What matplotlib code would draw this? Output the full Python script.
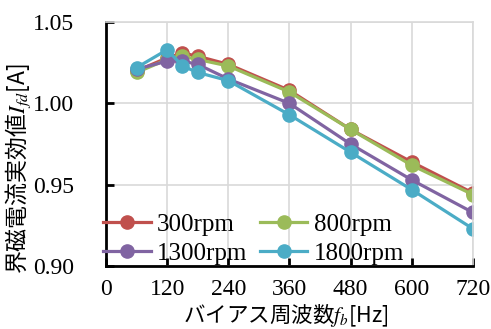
import numpy as np
import matplotlib.pyplot as plt

plt.rcParams['font.family'] = ['Liberation Serif', 'Noto Sans CJK JP']
plt.rcParams['mathtext.fontset'] = 'stix'

freq = [60, 120, 150, 180, 240, 360, 480, 600, 720]
rpm300 = [1.020, 1.028, 1.031, 1.029, 1.024, 1.008, 0.984, 0.964, 0.945]
rpm800 = [1.019, 1.027, 1.029, 1.027, 1.023, 1.007, 0.984, 0.962, 0.944]
rpm1300 = [1.021, 1.026, 1.026, 1.024, 1.015, 1.000, 0.975, 0.953, 0.933]
rpm1800 = [1.022, 1.033, 1.023, 1.019, 1.014, 0.993, 0.970, 0.947, 0.923]

labels = ['300rpm', '800rpm', '1300rpm', '1800rpm']
colors = ['#C0504D', '#9BBB59', '#8064A2', '#4BACC6']

fig = plt.figure(figsize=(4.91, 3.29), dpi=100)
ax = fig.add_axes([0.216, 0.191, 0.747, 0.742])

lines = []
for y, lab, c in zip([rpm300, rpm800, rpm1300, rpm1800], labels, colors):
    l, = ax.plot(freq, y, '-o', color=c, lw=2.3, ms=9.5, label=lab)
    lines.append(l)

ax.set_xlim(0, 720)
ax.set_ylim(0.90, 1.05)
ax.set_xticks(np.arange(0, 721, 120))
ax.set_yticks([0.90, 0.95, 1.00, 1.05])
ax.set_yticklabels(['0.90', '0.95', '1.00', '1.05'])
ax.grid(color='#D9D9D9', lw=1.2)
ax.set_axisbelow(True)
for s in ['top', 'right']:
    ax.spines[s].set_color('#D9D9D9')
    ax.spines[s].set_linewidth(1.2)
for s in ['left', 'bottom']:
    ax.spines[s].set_linewidth(2)
ax.tick_params(direction='in', length=6, width=2, labelsize=17)
ax.tick_params(axis='y', pad=23)
ax.tick_params(axis='x', pad=9)

ax.set_xlabel('バイアス周波数$f_b$[Hz]', fontsize=15.5, family=['Noto Sans CJK JP'])
ax.xaxis.set_label_coords(0.49, -0.145)
ax.set_ylabel('界磁電流実効値$I_{fd}$[A]', fontsize=16.5, family=['Noto Sans CJK JP'])
ax.yaxis.set_label_coords(-0.2, 0.40)

# row-major order like the original legend
order = [0, 2, 1, 3]
ax.legend([lines[i] for i in order], [labels[i] for i in order], ncol=2,
          loc='lower left', bbox_to_anchor=(-0.035, -0.035), frameon=False,
          fontsize=18, handlelength=1.9, handletextpad=0.25, columnspacing=0.5,
          labelspacing=0.25, borderaxespad=0)

fig.savefig('out.png', dpi=100)
